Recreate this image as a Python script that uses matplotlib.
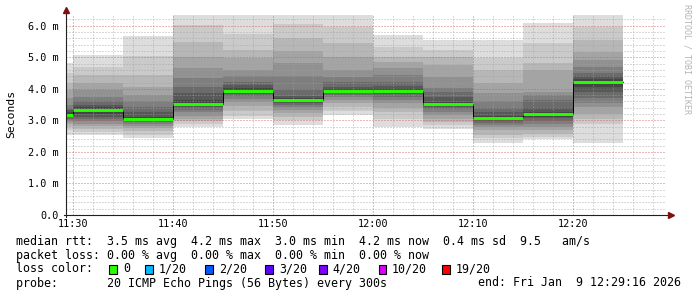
import matplotlib

matplotlib.use("Agg")
import matplotlib.pyplot as plt
from matplotlib.patches import Rectangle
from matplotlib.ticker import FuncFormatter, MultipleLocator

# 5 minute bins, 20 sorted ping round trip times (ms) per bin
bin_starts = ["11:25", "11:30", "11:35", "11:40", "11:45", "11:50",
              "11:55", "12:00", "12:05", "12:10", "12:15", "12:20"]
ping_rtt_ms = [
    [2.55, 2.70, 2.80, 2.88, 2.95, 3.00, 3.05, 3.10, 3.14, 3.17, 3.19, 3.25, 3.32, 3.40, 3.50, 3.70, 3.95, 4.20, 4.50, 4.81],
    [2.54, 2.62, 2.72, 2.82, 2.90, 2.98, 3.05, 3.12, 3.20, 3.28, 3.36, 3.42, 3.50, 3.60, 3.75, 3.95, 4.20, 4.45, 4.70, 5.07],
    [2.45, 2.55, 2.65, 2.75, 2.83, 2.90, 2.95, 2.99, 3.02, 3.04, 3.06, 3.12, 3.25, 3.43, 3.60, 3.80, 4.05, 4.45, 5.05, 5.68],
    [2.78, 2.88, 2.97, 3.05, 3.15, 3.25, 3.33, 3.42, 3.48, 3.52, 3.55, 3.64, 3.86, 4.07, 4.33, 4.65, 5.02, 5.49, 6.02, 6.60],
    [3.03, 3.15, 3.30, 3.45, 3.58, 3.68, 3.76, 3.84, 3.90, 3.93, 3.95, 4.02, 4.12, 4.23, 4.40, 4.60, 4.97, 5.23, 5.75, 6.60],
    [2.85, 3.00, 3.12, 3.22, 3.33, 3.42, 3.48, 3.54, 3.58, 3.62, 3.65, 3.70, 3.78, 3.96, 4.40, 4.81, 5.20, 5.60, 6.05, 6.60],
    [3.17, 3.30, 3.43, 3.55, 3.65, 3.73, 3.80, 3.86, 3.90, 3.93, 3.95, 3.99, 4.07, 4.23, 4.38, 4.60, 5.02, 5.44, 5.95, 6.60],
    [2.80, 3.05, 3.25, 3.40, 3.55, 3.65, 3.74, 3.82, 3.88, 3.93, 3.95, 4.00, 4.10, 4.23, 4.44, 4.65, 4.85, 5.02, 5.33, 5.70],
    [2.74, 2.85, 2.95, 3.05, 3.17, 3.27, 3.35, 3.42, 3.47, 3.50, 3.52, 3.59, 3.75, 3.90, 4.02, 4.38, 4.75, 5.02, 5.23, 5.55],
    [2.27, 2.43, 2.55, 2.69, 2.78, 2.85, 2.92, 2.98, 3.02, 3.06, 3.10, 3.14, 3.25, 3.38, 3.60, 3.86, 4.17, 4.60, 4.97, 5.55],
    [2.40, 2.48, 2.58, 2.68, 2.80, 2.90, 2.98, 3.06, 3.12, 3.18, 3.22, 3.26, 3.38, 3.65, 3.80, 3.91, 4.60, 4.81, 5.44, 6.08],
    [2.27, 2.90, 3.05, 3.20, 3.43, 3.54, 3.70, 3.91, 4.07, 4.20, 4.26, 4.30, 4.40, 4.49, 4.70, 4.91, 5.18, 5.55, 5.97, 6.60],
]
median_ms = [3.18, 3.32, 3.05, 3.53, 3.94, 3.63, 3.94, 3.94, 3.51, 3.08, 3.20, 4.23]

legend_lines = [
    "median rtt:  3.5 ms avg  4.2 ms max  3.0 ms min  4.2 ms now  0.4 ms sd  9.5   am/s",
    "packet loss: 0.00 % avg  0.00 % max  0.00 % min  0.00 % now",
]
loss_labels = ["0", "1/20", "2/20", "3/20", "4/20", "10/20", "19/20"]
loss_colors = ["#26ff00", "#00b8ff", "#0059ff", "#5e00ff", "#7e00ff", "#dd00ff", "#ff0000"]
probe_text = "probe:       20 ICMP Echo Pings (56 Bytes) every 300s"
end_text = "end: Fri Jan  9 12:29:16 2026"

W, H = 697, 297
MONO = "DejaVu Sans Mono"
plt.rcParams["font.family"] = MONO


def to_minutes(hhmm):
    h, m = hhmm.split(":")
    return int(h) * 60 + int(m)


def px(x, y):
    # figure pixel (from top left) -> figure fraction
    return x / W, 1 - y / H


fig = plt.figure(figsize=(W / 100, H / 100), dpi=100)
fig.patch.set_facecolor("white")
ax = fig.add_axes([66 / W, (H - 215) / H, 600 / W, 200 / H])
ax.set_facecolor("white")

start = to_minutes("11:29") + 16 / 60
end = start + 60
x0 = [to_minutes(s) for s in bin_starts]

# smoke bands, outermost (lightest) first
half = 10
for ibot in range(1, half + 1):
    lo = [p[ibot - 1] for p in ping_rtt_ms]
    hi = [p[20 - ibot] for p in ping_rtt_ms]
    g = int(190 / half * (half - ibot)) + 50
    color = "#%02x%02x%02x" % (g, g, g)
    ax.bar(x0, [h - l for h, l in zip(hi, lo)], bottom=lo, width=5, align="edge",
           color=color, linewidth=0, antialiased=False, zorder=1)

# grid, dotted 1px on / 1px off
ax.set_xlim(start, end)
ax.set_ylim(0, 6.34)
ax.xaxis.set_major_locator(MultipleLocator(10))
ax.xaxis.set_minor_locator(MultipleLocator(2))
ax.yaxis.set_major_locator(MultipleLocator(1))
ax.yaxis.set_minor_locator(MultipleLocator(0.2))
ax.grid(which="minor", color="#a0a0a0", linestyle=(0, (1.4, 1.4)), linewidth=0.72,
        alpha=0.4, antialiased=False, zorder=2)
ax.grid(which="major", color="#d05050", linestyle=(0, (1.4, 1.4)), linewidth=0.72,
        alpha=0.4, antialiased=False, zorder=2)
ax.set_axisbelow(False)

# median line
edges = x0 + [x0[-1] + 5]
ax.step(edges, median_ms + [median_ms[-1]], where="post", color="#000000", linewidth=0.72, zorder=3)
ax.hlines(median_ms, x0, [x + 5 for x in x0], color=loss_colors[0], linewidth=2.1, zorder=4)

ax.xaxis.set_major_formatter(FuncFormatter(lambda v, _: f"{int(round(v)) // 60}:{int(round(v)) % 60:02d}"))
ax.yaxis.set_major_formatter(FuncFormatter(lambda v, _: "0.0" if abs(v) < 1e-9 else f"{v:.1f} m"))
ax.tick_params(which="both", length=0, labelsize=7.3)
ax.tick_params(axis="x", pad=3)
ax.tick_params(axis="y", pad=5)
for side in ["top", "right", "left", "bottom"]:
    ax.spines[side].set_visible(False)

# axes with arrows
ax.plot([0, 0], [-0.01, 1.015], transform=ax.transAxes, color="#202020", linewidth=0.8, clip_on=False, zorder=5)
ax.plot([-0.004, 1.005], [0, 0], transform=ax.transAxes, color="#202020", linewidth=0.8, clip_on=False, zorder=5)
ax.plot([0], [1.025], marker="^", markersize=4, color="#7f1010", transform=ax.transAxes, clip_on=False, zorder=6)
ax.plot([1.009], [0], marker=">", markersize=4, color="#7f1010", transform=ax.transAxes, clip_on=False, zorder=6)

# labels
fig.text(*px(11, 114), "Seconds", rotation=90, ha="center", va="center", fontsize=8.2)
fig.text(*px(687, 4), "RRDTOOL / TOBI OETIKER", rotation=270, ha="center", va="top",
         fontsize=6, color="#b4b4b4")

# legend block
fig.text(*px(16, 241), legend_lines[0], ha="left", va="center", fontsize=8.37)
fig.text(*px(16, 255), legend_lines[1], ha="left", va="center", fontsize=8.37)
fig.text(*px(16, 269), "loss color:", ha="left", va="center", fontsize=8.37)
box_x = [109, 145, 205, 265, 319, 379, 442]
label_x = [123, 159, 219, 279, 332, 392, 456]
for bx, lx, label, color in zip(box_x, label_x, loss_labels, loss_colors):
    fig.add_artist(Rectangle(px(bx, 273.5), 7.5 / W, 8.5 / H, transform=fig.transFigure,
                             facecolor=color, edgecolor="black", linewidth=0.8))
    fig.text(*px(lx, 269), label, ha="left", va="center", fontsize=8.37)
fig.text(*px(16, 283), probe_text, ha="left", va="center", fontsize=8.37)
fig.text(*px(681, 283), end_text, ha="right", va="center", fontsize=8.37)

fig.savefig("out.png", dpi=100)
plt.close(fig)
